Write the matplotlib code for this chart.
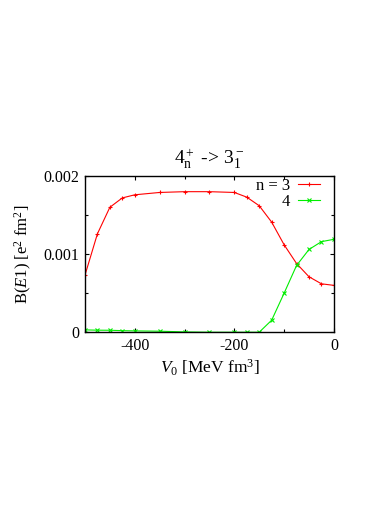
import numpy as np
import matplotlib
matplotlib.use("Agg")
import matplotlib.pyplot as plt
from matplotlib.ticker import MultipleLocator

# V0 grid [MeV fm^3]
v0 = [-500, -475, -450, -425, -400, -350, -300, -250, -200, -175,
      -150, -125, -100, -75, -50, -25, 0]

# B(E1) values [e^2 fm^2]
be1_n3 = [0.00073, 0.00126, 0.00160, 0.00172, 0.00176, 0.00179, 0.00180,
          0.00180, 0.00179, 0.00173, 0.00162, 0.00141, 0.00112, 0.00088,
          0.00071, 0.00062, 0.00060]
be1_n4 = [0.00003, 0.000026, 0.000025, 0.00002, 0.000017, 0.000013,
          0.000004, 0.0, 0.0, 0.0, 0.0, 0.000154, 0.00050, 0.000855,
          0.00106, 0.00116, 0.00119]

plt.rcParams['font.family'] = ['Liberation Serif', 'DejaVu Serif']
plt.rcParams['mathtext.fontset'] = 'custom'
plt.rcParams['mathtext.rm'] = 'Liberation Serif'
plt.rcParams['mathtext.it'] = 'Liberation Serif:italic'

fig = plt.figure(figsize=(3.71, 5.24), dpi=100)
ax = fig.add_axes([0.229, 0.366, 0.671, 0.298])

ax.plot(v0, be1_n3, color='#ff0000', lw=0.8, marker='+', ms=3.5, mew=0.8,
        label='n = 3')
ax.plot(v0, be1_n4, color='#00ee00', lw=0.8, marker='x', ms=2.5, mew=0.8,
        label='4')

ax.set_xlim(-500, 0)
ax.set_ylim(0, 0.002)
ax.xaxis.set_minor_locator(MultipleLocator(100))
ax.yaxis.set_minor_locator(MultipleLocator(0.0005))
ax.set_xticks([-400, -200, 0])
ax.set_xticklabels(['-400', '-200', '0'])
ax.set_yticks([0, 0.001, 0.002])
ax.set_yticklabels(['0', '0.001', '0.002'])
ax.tick_params(which='both', direction='in', top=True, right=True,
               labelsize=11.5, width=0.8)
ax.tick_params(which='major', length=3, pad=4)
ax.tick_params(which='minor', length=2)
for s in ax.spines.values():
    s.set_linewidth(1.0)

ax.set_xlabel(r'$V_0$ [MeV fm$^3$]', fontsize=12.5, labelpad=3)
ax.set_ylabel(r'B($E$1) [e$^2$ fm$^2$]', fontsize=12, labelpad=7)
ax.set_title(r'$4^+_{\rm n}$ -> $3^-_1$', fontsize=14, pad=8)

leg = ax.legend(loc='upper right', bbox_to_anchor=(0.97, 1.03),
                frameon=False, markerfirst=False,
                fontsize=12, handlelength=1.3, handletextpad=0.5,
                labelspacing=0.0, borderaxespad=0.0)
for t in leg.get_texts():
    t.set_ha('right')

fig.savefig('out.png', dpi=100)
